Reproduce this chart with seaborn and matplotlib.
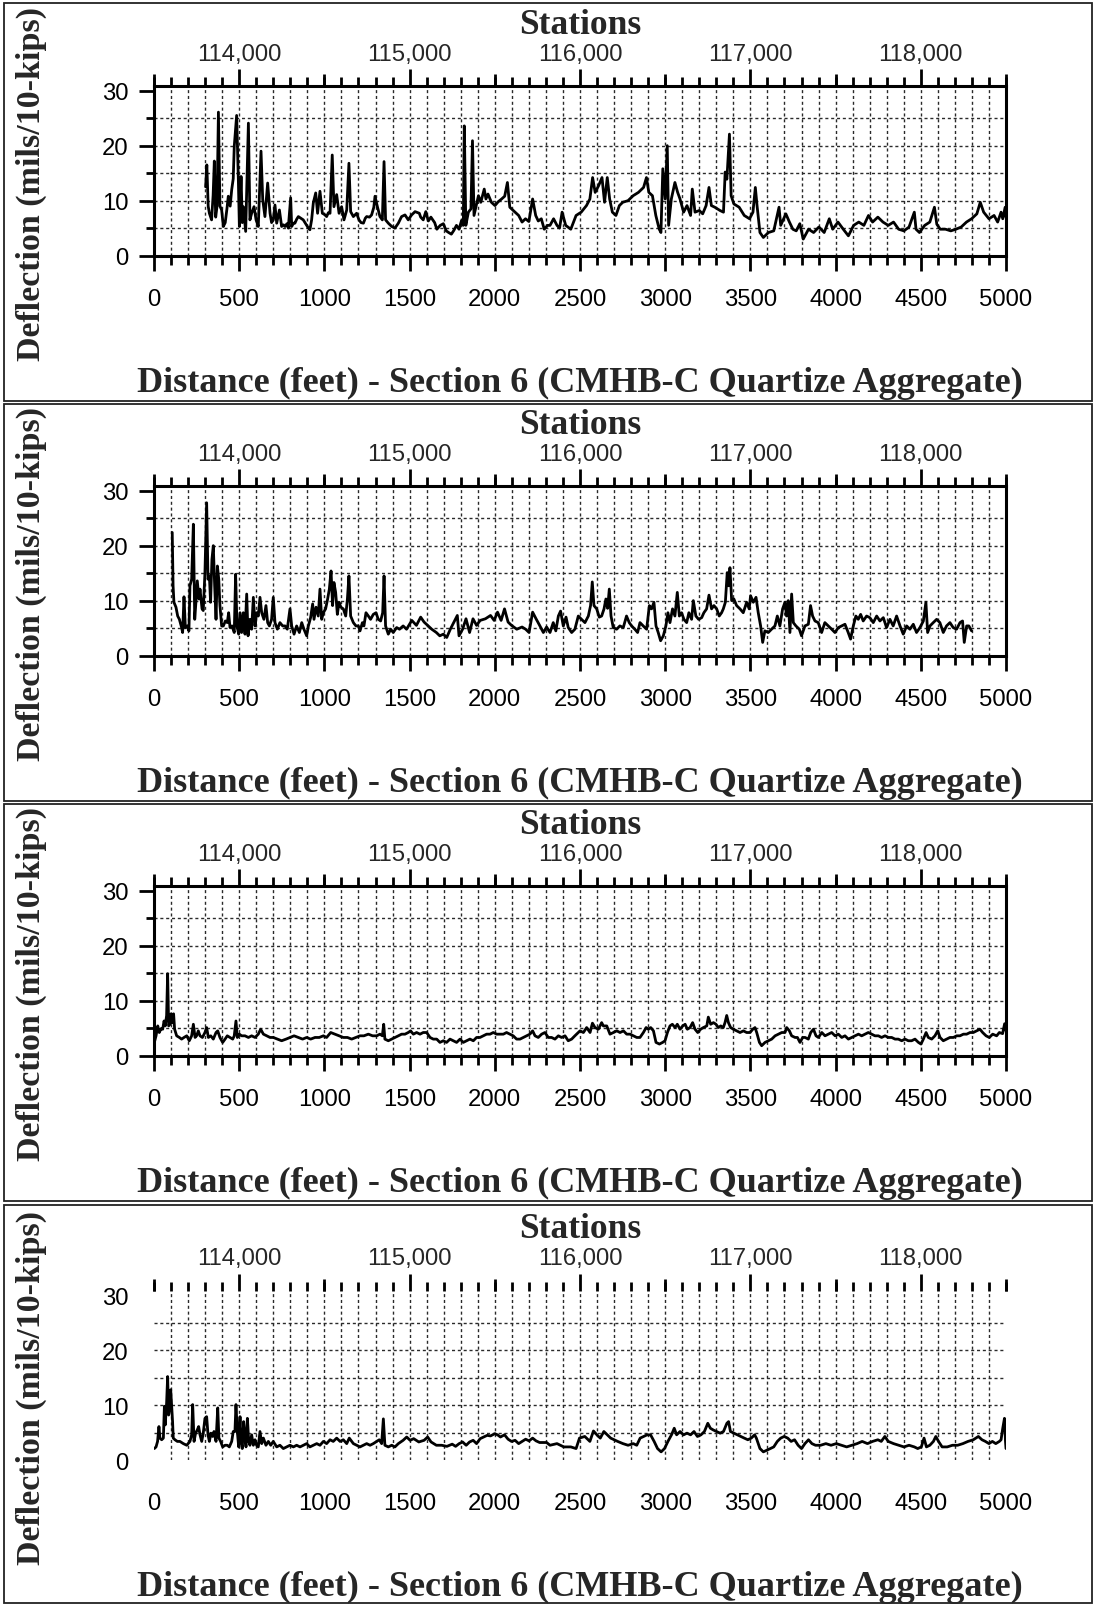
import matplotlib
matplotlib.use("Agg")
import numpy as np
import pandas as pd
import matplotlib.pyplot as plt
import seaborn as sns
from matplotlib.patches import Rectangle
from matplotlib.ticker import MultipleLocator, FixedLocator, FuncFormatter, NullFormatter

sns.set_theme(style="white")
plt.rcParams["font.family"] = ["Liberation Sans", "DejaVu Sans"]

# ---------------------------------------------------------------- data
x_title = "Distance (feet) - Section 6 (CMHB-C Quartize Aggregate)"
y_title = "Deflection (mils/10-kips)"
top_title = "Stations"

station_offset = 113500
station_labels = [114000, 115000, 116000, 117000, 118000]
x_ticks = [0, 500, 1000, 1500, 2000, 2500, 3000, 3500, 4000, 4500, 5000]
y_ticks = [0, 10, 20, 30]

run1_ft = [303, 310, 318, 325, 338, 347, 354, 362, 370, 378, 387, 397, 407, 418, 428, 436, 447, 456, 465, 471,
           485, 495, 501, 511, 518, 524, 538, 554, 563, 573, 587, 599, 612, 628, 638, 651, 667, 681, 690, 700,
           710, 720, 736, 749, 760, 769, 780, 788, 802, 808, 818, 827, 837, 847, 862, 876, 890, 906, 915, 925,
           935, 949, 960, 974, 988, 1000, 1013, 1023, 1033, 1046, 1056, 1072, 1086, 1101, 1115, 1131, 1144, 1154, 1170, 1189,
           1203, 1215, 1229, 1240, 1248, 1265, 1277, 1290, 1297, 1311, 1326, 1340, 1350, 1359, 1375, 1395, 1414, 1434, 1453, 1473,
           1492, 1512, 1532, 1557, 1565, 1580, 1595, 1610, 1625, 1647, 1660, 1680, 1698, 1715, 1729, 1745, 1760, 1775, 1790, 1805,
           1815, 1821, 1830, 1845, 1860, 1869, 1878, 1890, 1904, 1918, 1938, 1948, 1960, 1980, 2001, 2020, 2040, 2058, 2074, 2088,
           2105, 2119, 2140, 2160, 2180, 2200, 2222, 2240, 2255, 2273, 2290, 2310, 2324, 2345, 2365, 2380, 2395, 2416, 2446, 2477,
           2507, 2538, 2558, 2574, 2589, 2609, 2629, 2644, 2660, 2674, 2690, 2711, 2731, 2751, 2782, 2812, 2843, 2873, 2890, 2904,
           2925, 2945, 2965, 2975, 2986, 3000, 3012, 3020, 3036, 3057, 3073, 3087, 3108, 3128, 3149, 3159, 3175, 3200, 3220, 3240,
           3257, 3271, 3291, 3322, 3342, 3352, 3362, 3377, 3387, 3403, 3434, 3464, 3495, 3515, 3529, 3539, 3556, 3576, 3606, 3637,
           3668, 3678, 3708, 3729, 3749, 3769, 3790, 3810, 3841, 3871, 3902, 3933, 3963, 3983, 4014, 4045, 4075, 4106, 4136, 4166,
           4193, 4217, 4248, 4278, 4309, 4340, 4370, 4401, 4431, 4462, 4472, 4492, 4523, 4553, 4580, 4594, 4614, 4645, 4676, 4706,
           4737, 4768, 4798, 4829, 4849, 4869, 4900, 4930, 4951, 4971, 4981, 4995, 5000]
run1_defl = [12.5, 16.5, 9.0, 7.7, 6.5, 11.0, 17.2, 7.0, 9.0, 26.1, 9.0, 8.3, 5.3, 6.0, 8.5, 10.8, 9.0, 12.0, 14.0, 19.9,
             25.5, 13.8, 5.3, 14.4, 6.0, 8.9, 4.4, 24.1, 6.5, 7.7, 8.9, 6.5, 5.3, 19.0, 10.2, 7.1, 13.2, 7.7, 6.0, 6.5,
             9.2, 5.9, 8.3, 5.3, 5.6, 5.3, 5.8, 5.0, 10.5, 5.3, 5.9, 5.9, 6.6, 7.1, 6.8, 6.5, 5.8, 5.0, 4.7, 6.5,
             9.6, 11.4, 7.7, 11.7, 7.7, 7.5, 7.1, 7.8, 7.7, 18.3, 8.9, 11.1, 7.7, 8.9, 6.5, 8.3, 16.8, 8.0, 7.1, 7.7,
             6.5, 6.0, 5.9, 6.8, 7.1, 7.0, 7.4, 8.8, 10.8, 8.9, 7.1, 6.5, 17.1, 6.5, 5.9, 5.3, 5.0, 5.9, 7.1, 7.4,
             6.5, 7.4, 8.0, 7.7, 7.0, 6.5, 8.0, 6.3, 7.0, 6.0, 4.8, 5.5, 5.8, 4.5, 4.2, 3.9, 4.6, 5.5, 4.8, 6.4,
             5.5, 23.6, 5.5, 7.9, 8.5, 20.9, 7.3, 9.0, 10.9, 9.7, 12.1, 10.3, 11.2, 9.7, 9.1, 9.8, 10.3, 10.8, 13.3, 8.8,
             8.3, 7.9, 7.3, 6.1, 6.7, 6.2, 10.3, 7.3, 6.3, 6.7, 4.8, 5.5, 5.5, 6.7, 5.5, 5.0, 7.9, 5.5, 4.8, 7.3,
             7.9, 9.1, 10.3, 14.2, 11.5, 12.7, 14.2, 9.7, 14.2, 10.3, 7.9, 7.3, 9.1, 9.7, 10.0, 10.9, 11.5, 12.4, 14.2, 11.5,
             10.9, 7.3, 4.8, 4.2, 15.8, 10.3, 20.0, 5.5, 10.3, 13.3, 11.5, 10.3, 7.9, 9.1, 7.3, 12.1, 7.9, 8.2, 7.6, 9.1,
             12.4, 9.1, 8.8, 8.2, 7.9, 15.2, 13.9, 22.1, 10.9, 9.4, 8.8, 7.3, 6.7, 7.9, 12.4, 9.1, 4.2, 3.3, 4.2, 4.5,
             8.8, 5.5, 7.6, 6.1, 4.8, 4.5, 5.8, 3.0, 4.8, 4.2, 5.2, 4.2, 6.7, 4.8, 6.1, 4.8, 3.6, 5.5, 6.1, 5.5,
             7.3, 6.1, 7.0, 6.1, 5.5, 6.1, 4.8, 4.5, 5.2, 7.9, 4.8, 4.2, 5.5, 6.1, 8.8, 5.7, 4.8, 4.8, 4.5, 4.8,
             5.2, 6.1, 6.7, 7.6, 9.7, 7.9, 6.7, 7.3, 6.1, 7.9, 6.7, 8.8, 7.0]

run2_ft = [107, 112, 117, 129, 139, 149, 162, 168, 176, 184, 196, 205, 211, 221, 231, 239, 246, 254, 264, 270,
           282, 289, 299, 309, 317, 325, 332, 340, 348, 356, 364, 372, 380, 387, 397, 407, 419, 430, 438, 446,
           458, 471, 479, 487, 497, 505, 514, 524, 534, 544, 552, 563, 573, 583, 593, 602, 612, 622, 632, 645,
           657, 667, 677, 690, 700, 710, 724, 739, 755, 769, 782, 798, 808, 822, 837, 853, 867, 880, 896, 906,
           919, 931, 939, 951, 964, 974, 984, 994, 1007, 1019, 1029, 1039, 1048, 1056, 1066, 1076, 1086, 1097, 1111, 1125,
           1135, 1144, 1154, 1170, 1185, 1199, 1209, 1223, 1232, 1244, 1258, 1271, 1287, 1303, 1316, 1330, 1342, 1350, 1359, 1375,
           1389, 1404, 1424, 1441, 1462, 1482, 1513, 1540, 1565, 1585, 1606, 1630, 1657, 1677, 1698, 1718, 1739, 1760, 1780, 1790,
           1811, 1831, 1852, 1872, 1893, 1914, 1945, 1975, 1996, 2016, 2037, 2057, 2078, 2098, 2129, 2160, 2181, 2201, 2222, 2242,
           2263, 2285, 2304, 2324, 2343, 2358, 2373, 2386, 2402, 2418, 2431, 2451, 2470, 2490, 2509, 2529, 2549, 2562, 2572, 2582,
           2598, 2613, 2627, 2641, 2652, 2662, 2672, 2682, 2695, 2715, 2734, 2754, 2773, 2789, 2803, 2822, 2838, 2852, 2871, 2891,
           2907, 2920, 2934, 2946, 2959, 2973, 2989, 3004, 3016, 3028, 3043, 3057, 3071, 3083, 3096, 3110, 3126, 3139, 3155, 3165,
           3180, 3196, 3214, 3227, 3243, 3257, 3272, 3286, 3302, 3317, 3331, 3341, 3353, 3364, 3372, 3380, 3390, 3403, 3419, 3439,
           3458, 3478, 3493, 3501, 3517, 3533, 3546, 3560, 3572, 3585, 3605, 3624, 3644, 3658, 3673, 3689, 3703, 3712, 3722, 3732,
           3742, 3752, 3767, 3787, 3800, 3820, 3840, 3853, 3865, 3879, 3898, 3918, 3937, 3957, 3977, 3996, 4016, 4035, 4055, 4074,
           4088, 4104, 4119, 4133, 4147, 4162, 4182, 4201, 4221, 4241, 4260, 4280, 4299, 4319, 4338, 4358, 4378, 4397, 4417, 4436,
           4456, 4475, 4495, 4515, 4530, 4540, 4554, 4573, 4593, 4612, 4632, 4651, 4671, 4690, 4710, 4730, 4745, 4755, 4769, 4782,
           4798]
run2_defl = [22.4, 12.7, 9.7, 8.8, 7.2, 6.6, 5.1, 4.2, 10.7, 5.1, 5.4, 4.5, 12.7, 13.9, 23.9, 6.6, 9.7, 13.6, 10.3, 12.1,
             8.5, 8.2, 15.1, 27.8, 13.9, 14.5, 9.7, 17.5, 20.0, 12.7, 6.6, 16.3, 13.9, 9.1, 5.4, 5.4, 6.3, 6.0, 7.8, 5.1,
             5.4, 4.2, 14.8, 5.4, 3.9, 7.8, 4.2, 7.8, 3.9, 11.2, 3.6, 6.6, 4.8, 10.6, 5.4, 7.8, 7.2, 10.6, 7.8, 6.6,
             9.1, 6.0, 5.4, 6.6, 10.6, 6.0, 4.8, 6.0, 5.4, 5.4, 4.8, 8.5, 5.4, 3.9, 5.4, 4.2, 6.0, 4.8, 3.6, 5.4,
             6.9, 9.4, 6.6, 8.8, 7.2, 12.1, 6.6, 7.8, 8.5, 10.3, 12.1, 15.4, 9.1, 13.3, 11.5, 7.5, 9.7, 8.8, 8.5, 7.2,
             10.3, 14.5, 7.2, 6.0, 5.4, 5.4, 4.5, 6.0, 5.4, 7.8, 7.2, 6.6, 7.5, 7.8, 6.6, 6.3, 7.8, 14.5, 5.4, 3.9,
             4.8, 4.2, 5.1, 4.8, 5.4, 4.8, 6.4, 5.5, 7.0, 6.1, 5.5, 4.8, 4.2, 3.6, 3.9, 3.3, 4.8, 6.1, 7.3, 3.6,
             4.8, 6.7, 4.2, 6.7, 5.5, 6.4, 6.7, 7.3, 6.4, 7.9, 6.4, 8.5, 6.1, 5.5, 4.8, 5.2, 4.8, 4.2, 7.9, 6.7,
             5.5, 4.2, 5.2, 4.2, 6.0, 4.5, 7.2, 8.1, 5.4, 7.0, 5.1, 4.2, 4.8, 7.2, 6.6, 6.0, 7.2, 9.1, 13.4, 9.1,
             8.5, 7.0, 7.2, 8.5, 10.3, 8.6, 12.1, 7.2, 5.1, 4.8, 5.4, 5.1, 7.2, 6.0, 5.4, 4.8, 4.2, 6.0, 5.4, 4.8,
             9.1, 8.5, 9.7, 5.4, 4.2, 2.7, 3.6, 5.4, 7.8, 6.0, 8.5, 7.2, 11.5, 7.2, 7.8, 6.6, 6.0, 7.8, 6.6, 10.0,
             7.2, 6.6, 6.9, 7.8, 8.5, 11.0, 8.5, 9.1, 8.5, 7.2, 7.8, 8.5, 9.7, 15.1, 12.7, 16.0, 10.0, 10.3, 9.1, 8.5,
             7.8, 9.7, 8.5, 10.9, 9.7, 10.6, 7.8, 5.4, 2.4, 4.5, 4.2, 4.8, 5.4, 7.2, 5.4, 8.5, 9.7, 7.2, 10.0, 4.2,
             11.2, 6.0, 5.4, 4.8, 3.6, 5.4, 5.7, 9.1, 7.2, 6.3, 6.0, 4.2, 6.0, 5.4, 4.8, 4.2, 5.1, 5.4, 5.7, 4.2,
             3.0, 5.4, 7.2, 6.6, 7.5, 6.3, 7.2, 6.9, 6.0, 7.2, 6.3, 6.9, 5.1, 6.6, 5.4, 7.2, 5.4, 3.9, 5.4, 4.8,
             5.7, 4.2, 5.1, 6.3, 9.7, 4.2, 5.4, 6.0, 6.6, 6.0, 4.2, 5.4, 6.0, 5.1, 4.8, 6.0, 6.3, 2.4, 5.4, 5.4,
             4.5]

run3_ft = [2, 12, 22, 31, 41, 51, 59, 66, 74, 80, 86, 94, 100, 108, 115, 121, 133, 149, 162, 176,
           192, 207, 221, 231, 241, 250, 260, 270, 284, 299, 309, 319, 333, 348, 364, 374, 387, 403, 417, 430,
           446, 462, 471, 481, 489, 501, 514, 534, 554, 573, 593, 612, 626, 642, 661, 681, 700, 724, 749, 775,
           798, 822, 847, 872, 896, 919, 945, 970, 994, 1013, 1037, 1062, 1088, 1111, 1135, 1160, 1185, 1209, 1232, 1258,
           1283, 1307, 1326, 1340, 1348, 1355, 1375, 1395, 1414, 1434, 1453, 1473, 1492, 1506, 1522, 1541, 1561, 1580, 1600, 1620,
           1639, 1659, 1678, 1698, 1717, 1737, 1757, 1776, 1796, 1815, 1835, 1854, 1874, 1893, 1913, 1933, 1952, 1972, 1991, 2011,
           2030, 2050, 2069, 2089, 2108, 2128, 2148, 2167, 2187, 2206, 2222, 2236, 2255, 2275, 2294, 2314, 2333, 2353, 2373, 2392,
           2412, 2431, 2451, 2470, 2490, 2500, 2520, 2539, 2559, 2573, 2588, 2608, 2627, 2637, 2657, 2676, 2696, 2716, 2735, 2755,
           2774, 2794, 2813, 2833, 2852, 2872, 2888, 2901, 2915, 2931, 2946, 2966, 2985, 2999, 3013, 3028, 3042, 3058, 3071, 3087,
           3103, 3117, 3130, 3146, 3161, 3175, 3191, 3208, 3224, 3244, 3253, 3267, 3283, 3298, 3312, 3326, 3341, 3351, 3361, 3371,
           3384, 3400, 3420, 3439, 3459, 3478, 3498, 3514, 3527, 3537, 3553, 3566, 3586, 3605, 3625, 3645, 3664, 3684, 3703, 3713,
           3729, 3742, 3762, 3776, 3791, 3807, 3821, 3840, 3854, 3870, 3885, 3899, 3919, 3938, 3958, 3977, 3997, 4016, 4036, 4055,
           4075, 4095, 4114, 4134, 4153, 4173, 4192, 4212, 4231, 4251, 4270, 4290, 4310, 4329, 4349, 4368, 4388, 4407, 4427, 4446,
           4466, 4486, 4501, 4515, 4531, 4544, 4564, 4583, 4599, 4613, 4632, 4652, 4671, 4691, 4711, 4730, 4750, 4769, 4789, 4808,
           4828, 4847, 4863, 4883, 4902, 4922, 4945, 4961, 4980, 4992, 5000]
run3_defl = [2.4, 3.6, 5.4, 4.2, 4.9, 4.8, 6.3, 5.4, 7.3, 14.9, 5.4, 5.7, 7.6, 6.0, 7.6, 4.8, 3.6, 3.3, 3.0, 3.3,
             3.6, 2.7, 3.6, 5.7, 3.3, 3.6, 4.5, 3.6, 3.3, 4.2, 5.1, 3.3, 3.6, 3.0, 4.2, 4.5, 3.3, 2.4, 3.0, 3.6,
             3.3, 3.0, 3.6, 6.3, 3.3, 3.9, 3.6, 3.6, 3.3, 3.6, 3.3, 3.9, 4.8, 3.9, 3.6, 3.3, 3.3, 3.0, 2.7, 3.0,
             3.3, 3.6, 3.3, 3.0, 3.3, 3.0, 3.3, 3.3, 3.6, 3.3, 4.2, 3.9, 3.6, 3.3, 3.3, 3.0, 3.3, 3.6, 3.6, 3.9,
             3.6, 3.6, 3.9, 3.6, 5.7, 3.0, 2.7, 3.0, 3.3, 3.6, 3.9, 3.9, 4.2, 4.5, 3.9, 4.2, 3.9, 4.2, 4.2, 3.3,
             3.0, 3.0, 2.4, 2.7, 2.4, 3.0, 2.7, 2.4, 3.0, 2.4, 2.7, 3.0, 2.7, 3.3, 3.3, 3.6, 3.9, 3.9, 4.2, 3.9,
             3.9, 3.9, 4.2, 3.9, 3.6, 3.0, 3.0, 3.3, 3.6, 3.9, 4.5, 3.6, 3.3, 3.9, 4.2, 3.3, 3.3, 3.0, 3.6, 3.3,
             3.6, 2.7, 3.0, 3.6, 4.2, 4.5, 4.2, 5.1, 4.2, 5.9, 5.1, 4.8, 6.0, 5.4, 5.4, 3.9, 4.2, 4.5, 4.2, 4.5,
             3.9, 3.9, 3.6, 3.3, 3.3, 4.2, 5.1, 4.8, 5.1, 4.5, 2.4, 2.1, 2.4, 2.7, 4.2, 5.4, 5.7, 5.1, 5.7, 4.8,
             5.4, 5.7, 4.8, 5.1, 6.0, 4.8, 4.2, 4.8, 5.1, 5.4, 7.0, 5.7, 6.0, 5.7, 5.1, 5.4, 5.1, 6.0, 7.3, 6.0,
             5.1, 4.8, 4.5, 4.2, 4.5, 4.2, 4.2, 4.8, 5.1, 4.2, 2.4, 1.8, 2.4, 2.7, 3.0, 3.6, 3.9, 4.2, 4.2, 5.1,
             4.5, 3.6, 3.3, 3.3, 2.4, 3.3, 3.3, 3.0, 4.2, 4.8, 3.6, 3.3, 4.2, 3.6, 3.9, 4.2, 3.6, 3.9, 3.3, 3.6,
             3.0, 3.3, 3.6, 3.9, 3.6, 3.9, 4.2, 3.9, 3.6, 3.6, 3.3, 3.6, 3.3, 3.3, 3.0, 3.0, 2.7, 3.0, 2.7, 2.7,
             3.0, 2.4, 2.1, 3.0, 4.2, 3.3, 3.0, 3.6, 4.5, 3.3, 2.7, 3.0, 3.3, 3.3, 3.6, 3.6, 3.9, 3.9, 4.2, 4.2,
             4.5, 4.8, 4.2, 3.6, 3.3, 3.9, 3.6, 4.2, 4.0, 5.8, 4.5]

run4_ft = [2, 12, 21, 29, 35, 45, 55, 61, 66, 74, 80, 86, 92, 98, 104, 109, 113, 123, 137, 152,
           172, 192, 211, 221, 227, 235, 244, 254, 262, 270, 280, 289, 299, 309, 317, 325, 334, 344, 352, 364,
           374, 381, 391, 403, 417, 430, 442, 456, 465, 475, 481, 489, 497, 505, 510, 518, 526, 534, 540, 548,
           556, 563, 573, 583, 593, 602, 612, 622, 632, 642, 657, 671, 685, 700, 720, 739, 759, 778, 798, 818,
           837, 857, 876, 896, 915, 935, 955, 974, 994, 1013, 1033, 1052, 1072, 1092, 1111, 1131, 1146, 1170, 1189, 1209,
           1228, 1248, 1268, 1287, 1307, 1322, 1336, 1346, 1355, 1375, 1395, 1414, 1434, 1462, 1483, 1503, 1524, 1554, 1585, 1606,
           1626, 1657, 1688, 1719, 1750, 1770, 1791, 1811, 1832, 1852, 1873, 1893, 1914, 1934, 1955, 1975, 2000, 2016, 2033, 2057,
           2078, 2098, 2119, 2140, 2160, 2181, 2201, 2222, 2242, 2263, 2304, 2324, 2365, 2405, 2446, 2477, 2497, 2528, 2558, 2579,
           2599, 2619, 2640, 2660, 2680, 2701, 2721, 2752, 2782, 2813, 2833, 2853, 2874, 2894, 2914, 2935, 2955, 2976, 2996, 3016,
           3037, 3053, 3067, 3087, 3108, 3128, 3149, 3169, 3189, 3210, 3230, 3250, 3265, 3281, 3301, 3322, 3342, 3362, 3372, 3383,
           3403, 3423, 3444, 3464, 3485, 3505, 3525, 3535, 3556, 3576, 3597, 3617, 3637, 3658, 3678, 3698, 3719, 3739, 3759, 3780,
           3800, 3820, 3841, 3861, 3882, 3912, 3943, 3973, 4004, 4034, 4065, 4095, 4126, 4156, 4187, 4217, 4248, 4268, 4289, 4309,
           4340, 4370, 4401, 4431, 4462, 4482, 4503, 4519, 4533, 4553, 4574, 4588, 4604, 4625, 4655, 4686, 4716, 4747, 4777, 4808,
           4838, 4859, 4879, 4900, 4920, 4940, 4961, 4971, 4981, 4991, 4997, 5000]
run4_defl = [2.1, 2.4, 3.4, 6.1, 4.0, 3.7, 4.0, 9.8, 6.4, 10.4, 15.2, 8.2, 9.5, 12.8, 9.5, 7.0, 4.0, 3.7, 3.4, 3.4,
             3.0, 2.7, 3.4, 4.6, 10.1, 3.4, 4.9, 5.5, 6.1, 4.6, 3.4, 4.9, 7.6, 7.9, 4.6, 3.4, 4.9, 4.3, 5.2, 3.4,
             9.5, 4.0, 3.4, 2.4, 2.7, 2.7, 2.4, 3.4, 5.2, 5.2, 10.1, 5.2, 2.4, 7.9, 3.7, 2.1, 7.0, 4.0, 2.4, 7.6,
             3.4, 2.7, 4.6, 2.7, 3.7, 2.7, 2.4, 5.2, 3.0, 4.0, 2.7, 3.4, 2.7, 3.4, 2.4, 2.7, 2.1, 2.4, 2.7, 2.4,
             2.7, 2.4, 2.7, 3.0, 2.4, 2.7, 3.0, 2.7, 3.4, 3.0, 3.7, 3.4, 4.0, 3.4, 3.7, 3.0, 4.0, 3.0, 2.7, 2.4,
             2.7, 3.0, 2.7, 3.0, 3.4, 3.7, 3.0, 7.5, 2.7, 2.4, 2.7, 2.4, 3.0, 3.6, 4.2, 3.6, 3.9, 3.3, 3.6, 4.2,
             3.3, 2.7, 2.7, 2.5, 2.9, 2.5, 3.0, 3.3, 2.7, 3.3, 3.6, 3.0, 3.9, 4.2, 4.5, 4.4, 4.8, 4.6, 4.2, 4.6,
             3.8, 3.4, 3.6, 3.0, 3.4, 3.8, 3.5, 4.0, 3.5, 3.2, 3.2, 2.7, 3.0, 2.4, 2.4, 2.1, 4.0, 4.3, 3.4, 5.3,
             4.6, 4.0, 5.2, 4.6, 4.0, 3.7, 3.4, 3.0, 2.7, 3.0, 2.7, 4.0, 4.3, 4.6, 4.6, 3.4, 2.1, 1.5, 2.1, 3.4,
             4.6, 5.8, 4.6, 5.2, 4.6, 4.9, 4.6, 5.2, 4.3, 4.6, 5.2, 6.7, 5.8, 5.5, 5.2, 4.9, 5.2, 6.7, 7.0, 5.2,
             4.9, 4.6, 4.3, 4.0, 3.7, 4.0, 4.6, 4.0, 2.1, 1.5, 1.8, 2.1, 2.4, 3.4, 4.0, 4.3, 4.0, 3.4, 3.7, 2.7,
             2.1, 3.0, 3.7, 3.0, 2.7, 2.7, 3.0, 2.7, 3.0, 2.7, 2.4, 2.7, 3.0, 3.4, 3.0, 3.4, 3.7, 3.4, 4.3, 3.4,
             3.0, 2.7, 2.4, 2.7, 2.4, 2.1, 2.4, 4.0, 2.4, 2.7, 3.4, 4.3, 3.4, 2.4, 2.4, 2.7, 2.7, 3.0, 3.4, 3.7,
             4.3, 3.7, 3.4, 3.0, 3.4, 3.0, 3.4, 3.7, 5.8, 7.6, 3.4, 2.1]

runs = [(run1_ft, run1_defl), (run2_ft, run2_defl), (run3_ft, run3_defl), (run4_ft, run4_defl)]

# ---------------------------------------------------------------- layout (pixels)
W, H = 1094, 1606
fig = plt.figure(figsize=(W / 100, H / 100), dpi=100)


def fx(px):
    return px / W


def fy(py):
    return 1 - py / H


panel_offsets = [0, 400, 800, 1204.5]
panel_boxes = [(4, 401.5), (404.5, 802), (805, 1202), (1206, 1603.5)]
ax_left, ax_right = 154, 1006
ax_top, ax_bottom = 87.3, 256.6
y_max = 30.8

serif = ["Liberation Serif", "DejaVu Serif"]
sans = ["Liberation Sans", "DejaVu Sans"]
grid_kw = dict(color="#2a2a2a", lw=1.0, ls=(0, (2.2, 2.0)), zorder=1)

for i, ((ft, defl), off, box) in enumerate(zip(runs, panel_offsets, panel_boxes)):
    framed = i < 3

    ax = fig.add_axes([fx(ax_left), fy(off + ax_bottom),
                       (ax_right - ax_left) / W, (ax_bottom - ax_top) / H])
    ax.set_facecolor("none")

    df = pd.DataFrame({"Distance": ft, "Deflection": defl})
    sns.lineplot(data=df, x="Distance", y="Deflection", ax=ax, color="black",
                 linewidth=2.0, estimator=None, sort=False, legend=False, zorder=3)
    ax.set_xlabel("")
    ax.set_ylabel("")
    ax.set_xlim(0, 5000)
    ax.set_ylim(0, y_max)

    for yv in [5, 10, 15, 20, 25]:
        ax.axhline(yv, **grid_kw)
    for xv in range(100, 5000, 100):
        ax.axvline(xv, **grid_kw)

    ax.xaxis.set_major_locator(FixedLocator(x_ticks))
    ax.xaxis.set_minor_locator(MultipleLocator(100))
    ax.yaxis.set_major_locator(FixedLocator(y_ticks))
    ax.yaxis.set_minor_locator(FixedLocator([5, 15, 25]))

    tick_col = "black" if framed else (0, 0, 0, 0)
    ax.tick_params(axis="x", which="major", direction="out", length=10.8, width=2.0,
                   pad=12.5, labelsize=17.2, color=tick_col, labelcolor="black",
                   bottom=True, top=False)
    ax.tick_params(axis="x", which="minor", direction="out", length=6.5, width=2.0,
                   color=tick_col, bottom=True, top=False)
    ax.tick_params(axis="y", which="major", direction="out", length=10.8, width=2.0,
                   pad=7.6, labelsize=17.2, color=tick_col, labelcolor="black",
                   left=True, right=False)
    ax.tick_params(axis="y", which="minor", direction="out", length=5.8, width=2.0,
                   color=tick_col, left=True, right=False)
    for lab in ax.get_xticklabels() + ax.get_yticklabels():
        lab.set_family(sans)

    for side in ["left", "right", "top", "bottom"]:
        ax.spines[side].set_visible(framed)
        ax.spines[side].set_linewidth(2.2)
        ax.spines[side].set_color("black")

    # station scale along the top edge
    to_station = (lambda d: d + station_offset, lambda s: s - station_offset)
    sec = ax.secondary_xaxis("top", functions=to_station)
    sec.xaxis.set_major_locator(FixedLocator(station_labels))
    sec.xaxis.set_minor_locator(MultipleLocator(100))
    sec.xaxis.set_major_formatter(FuncFormatter(lambda v, p: f"{v:,.0f}"))
    sec.tick_params(axis="x", which="major", direction="out", length=12.2, width=2.0,
                    pad=3.2, labelsize=17.2, color="black")
    sec.tick_params(axis="x", which="minor", direction="out", length=6.3, width=2.0,
                    color="black")
    for lab in sec.get_xticklabels():
        lab.set_family(sans)
    for sp in sec.spines.values():
        sp.set_visible(False)

    half = ax.secondary_xaxis("top", functions=to_station)
    half.xaxis.set_major_locator(FixedLocator(list(range(113500, 119000, 1000))))
    half.xaxis.set_minor_locator(FixedLocator([]))
    half.xaxis.set_major_formatter(NullFormatter())
    half.tick_params(axis="x", which="major", direction="out", length=8.9, width=2.0,
                     color="black")
    for sp in half.spines.values():
        sp.set_visible(False)

    fig.text(fx(580), fy(off + 34), top_title, ha="center", va="baseline",
             family=serif, fontweight="bold", fontsize=25.5)
    fig.text(fx(580), fy(off + 392), x_title, ha="center", va="baseline",
             family=serif, fontweight="bold", fontsize=26)
    fig.text(fx(31), fy(off + 184), y_title, ha="center", va="center", rotation=90,
             family=serif, fontweight="bold", fontsize=24.5)

    top, bot = box
    fig.add_artist(Rectangle((fx(4), fy(bot)), fx(1092) - fx(4), (bot - top) / H,
                             transform=fig.transFigure, fill=False, lw=1.3,
                             edgecolor="#222222"))

fig.savefig("out.png", dpi=100)
